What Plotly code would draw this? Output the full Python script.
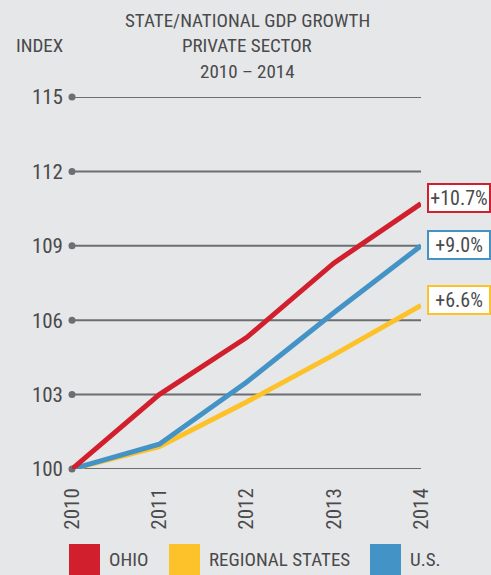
import plotly.graph_objects as go

years = [2010, 2011, 2012, 2013, 2014]
ohio = [100, 103.0, 105.3, 108.3, 110.7]
regional = [100, 100.9, 102.7, 104.6, 106.6]
us = [100, 101.0, 103.5, 106.3, 109.0]
series_names = ["OHIO", "REGIONAL STATES", "U.S."]
end_labels = ["+10.7%", "+6.6%", "+9.0%"]
y_ticks = [100, 103, 106, 109, 112, 115]
title_lines = ["STATE/NATIONAL GDP GROWTH", "PRIVATE SECTOR", "2010 – 2014"]

RED = "#d21f2e"
YEL = "#fdc22a"
BLU = "#4393c6"
GRID = "#6d6e71"
TXT = "#4a4a4c"
BG = "#e6e7e8"
FONT = "Roboto Condensed, sans-serif"

W, H = 491, 575
L, R, T, B = 72, 70, 97, 106
PH = H - T - B
PW = W - L - R

def py(p):
    return (H - B - p) / PH

def px(p):
    return (p - L) / PW

fig = go.Figure()

# gridlines
for v in y_ticks:
    fig.add_shape(type="line", xref="x", yref="y", x0=years[0], x1=years[-1], y0=v, y1=v,
                  line=dict(color=GRID, width=2), layer="below")
fig.add_trace(go.Scatter(x=[years[0]] * len(y_ticks), y=y_ticks, mode="markers",
                         marker=dict(color=GRID, size=7), showlegend=False, hoverinfo="skip",
                         cliponaxis=False))

colors = [RED, YEL, BLU]
data = [ohio, regional, us]
order = [1, 2, 0]
for i in order:
    fig.add_trace(go.Scatter(x=years, y=data[i], mode="lines", name=series_names[i],
                             line=dict(color=colors[i], width=5), showlegend=False,
                             cliponaxis=False))

yshifts = [6, 5, 1]
for i in range(3):
    fig.add_annotation(x=years[-1], y=data[i][-1], xref="x", yref="y", text=end_labels[i],
                       showarrow=False, xanchor="left", xshift=6, yshift=yshifts[i],
                       bgcolor="white", bordercolor=colors[i], borderwidth=2, borderpad=1,
                       font=dict(family=FONT, size=20, color=TXT), width=58, height=24)

# title
for j, t in enumerate(title_lines):
    fig.add_annotation(x=px(247), y=py(21 + 25 * j), xref="paper", yref="paper", text=t,
                       showarrow=False, xanchor="center", yanchor="middle",
                       font=dict(family=FONT, size=19, color=TXT))
fig.add_annotation(x=px(14), y=py(46), xref="paper", yref="paper", text="INDEX",
                   showarrow=False, xanchor="left", yanchor="middle",
                   font=dict(family=FONT, size=19, color=TXT))

# legend
sq_x = [69, 169, 370]
tx_x = [107, 207, 408]
for i in range(3):
    fig.add_shape(type="rect", xref="paper", yref="paper", x0=px(sq_x[i]), x1=px(sq_x[i] + 31),
                  y0=py(544), y1=py(580), fillcolor=colors[i], line=dict(width=0))
    fig.add_annotation(x=px(tx_x[i]), y=py(559), xref="paper", yref="paper", text=series_names[i],
                       showarrow=False, xanchor="left", yanchor="middle",
                       font=dict(family=FONT, size=19, color=TXT))

fig.update_layout(
    width=W, height=H,
    margin=dict(l=L, r=R, t=T, b=B),
    paper_bgcolor=BG, plot_bgcolor=BG,
    xaxis=dict(range=[years[0], years[-1]], tickvals=years, ticktext=[str(y) for y in years],
               tickangle=-90, showgrid=False, zeroline=False, showline=False, ticks="",
               ticklabelstandoff=14, tickfont=dict(family=FONT, size=21, color=TXT), fixedrange=True),
    yaxis=dict(range=[y_ticks[0], y_ticks[-1]], tickvals=y_ticks, showgrid=False, zeroline=False,
               showline=False, ticks="", ticklabelstandoff=8,
               tickfont=dict(family=FONT, size=21, color=TXT), fixedrange=True),
    showlegend=False,
)

fig.write_html("out.html", config={"displayModeBar": False},
               post_script="document.body.style.margin='0';document.body.style.background='#e6e7e8';")
